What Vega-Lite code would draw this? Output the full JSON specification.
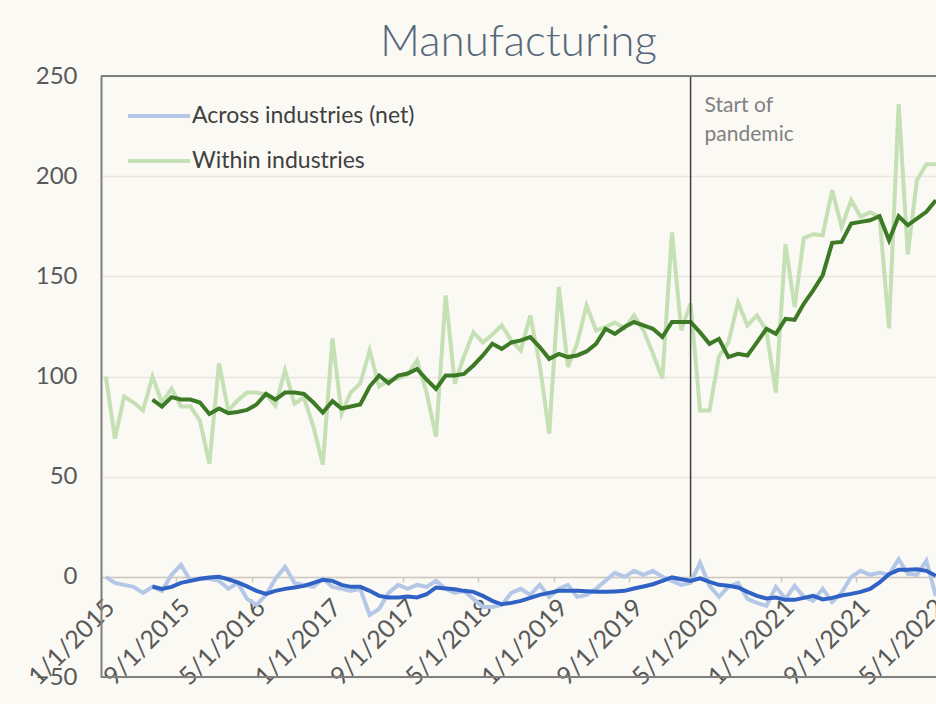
{
  "$schema": "https://vega.github.io/schema/vega-lite/v6.json",
  "width": 835,
  "height": 601,
  "autosize": "none",
  "padding": {"left": 101, "top": 76, "right": 0, "bottom": 27},
  "background": "#fbf9f4",
  "config": {"view": {"stroke": null}},
  "title": {"text": "Manufacturing", "font": "Lato", "fontSize": 44, "fontWeight": 300, "color": "#56687a", "anchor": "middle", "offset": -1},
  "datasets": {
    "monthly": [
      {"date": "2015-01-01", "across": 0, "within": 100},
      {"date": "2015-02-01", "across": -3, "within": 69},
      {"date": "2015-03-01", "across": -4, "within": 90},
      {"date": "2015-04-01", "across": -5, "within": 87},
      {"date": "2015-05-01", "across": -8, "within": 83},
      {"date": "2015-06-01", "across": -5, "within": 100, "acrossMA": -4.8, "withinMA": 88.5},
      {"date": "2015-07-01", "across": -7, "within": 87, "acrossMA": -6, "withinMA": 85},
      {"date": "2015-08-01", "across": 1, "within": 94, "acrossMA": -5, "withinMA": 89.7},
      {"date": "2015-09-01", "across": 6, "within": 85, "acrossMA": -3, "withinMA": 88.5},
      {"date": "2015-10-01", "across": -2, "within": 85, "acrossMA": -2, "withinMA": 88.5},
      {"date": "2015-11-01", "across": -1, "within": 78, "acrossMA": -1, "withinMA": 87},
      {"date": "2015-12-01", "across": -1, "within": 56.5, "acrossMA": -0.3, "withinMA": 81.3},
      {"date": "2016-01-01", "across": -2, "within": 106.5, "acrossMA": 0, "withinMA": 84},
      {"date": "2016-02-01", "across": -6, "within": 83, "acrossMA": -1.2, "withinMA": 81.7},
      {"date": "2016-03-01", "across": -3, "within": 88, "acrossMA": -2.8, "withinMA": 82.3},
      {"date": "2016-04-01", "across": -11, "within": 92, "acrossMA": -4.8, "withinMA": 83.3},
      {"date": "2016-05-01", "across": -14, "within": 92, "acrossMA": -7, "withinMA": 86},
      {"date": "2016-06-01", "across": -9, "within": 91, "acrossMA": -8.5, "withinMA": 91.3},
      {"date": "2016-07-01", "across": -1, "within": 85.5, "acrossMA": -7, "withinMA": 88.5},
      {"date": "2016-08-01", "across": 5, "within": 103, "acrossMA": -6, "withinMA": 92},
      {"date": "2016-09-01", "across": -3, "within": 86.5, "acrossMA": -5.3, "withinMA": 92},
      {"date": "2016-10-01", "across": -4, "within": 89.5, "acrossMA": -4.5, "withinMA": 91.3},
      {"date": "2016-11-01", "across": -5, "within": 75, "acrossMA": -3, "withinMA": 87},
      {"date": "2016-12-01", "across": -1, "within": 56, "acrossMA": -1.5, "withinMA": 82},
      {"date": "2017-01-01", "across": -5, "within": 119, "acrossMA": -2, "withinMA": 87.7},
      {"date": "2017-02-01", "across": -6, "within": 81.5, "acrossMA": -4, "withinMA": 84},
      {"date": "2017-03-01", "across": -7, "within": 92, "acrossMA": -5, "withinMA": 85},
      {"date": "2017-04-01", "across": -6, "within": 96.5, "acrossMA": -5, "withinMA": 86},
      {"date": "2017-05-01", "across": -19, "within": 113, "acrossMA": -7, "withinMA": 95},
      {"date": "2017-06-01", "across": -16, "within": 95, "acrossMA": -9.5, "withinMA": 100.5},
      {"date": "2017-07-01", "across": -8, "within": 98, "acrossMA": -10.3, "withinMA": 96.7},
      {"date": "2017-08-01", "across": -4, "within": 99, "acrossMA": -10.3, "withinMA": 100.5},
      {"date": "2017-09-01", "across": -6, "within": 101, "acrossMA": -9.8, "withinMA": 101.5},
      {"date": "2017-10-01", "across": -4, "within": 108, "acrossMA": -10.3, "withinMA": 103.8},
      {"date": "2017-11-01", "across": -5, "within": 92, "acrossMA": -8.7, "withinMA": 98.5},
      {"date": "2017-12-01", "across": -2, "within": 70, "acrossMA": -5.3, "withinMA": 93.8},
      {"date": "2018-01-01", "across": -6, "within": 140.5, "acrossMA": -5.8, "withinMA": 100.5},
      {"date": "2018-02-01", "across": -8, "within": 96.5, "acrossMA": -6.2, "withinMA": 100.5},
      {"date": "2018-03-01", "across": -7, "within": 110, "acrossMA": -7, "withinMA": 101.3},
      {"date": "2018-04-01", "across": -11, "within": 122, "acrossMA": -7.5, "withinMA": 105.5},
      {"date": "2018-05-01", "across": -15, "within": 117, "acrossMA": -9.5, "withinMA": 110.5},
      {"date": "2018-06-01", "across": -15, "within": 121, "acrossMA": -12, "withinMA": 116.3},
      {"date": "2018-07-01", "across": -14, "within": 125.5, "acrossMA": -13.7, "withinMA": 113.8},
      {"date": "2018-08-01", "across": -8, "within": 118, "acrossMA": -13, "withinMA": 117},
      {"date": "2018-09-01", "across": -6, "within": 113, "acrossMA": -12, "withinMA": 118},
      {"date": "2018-10-01", "across": -9, "within": 130.5, "acrossMA": -10.5, "withinMA": 119.7},
      {"date": "2018-11-01", "across": -4, "within": 106, "acrossMA": -9, "withinMA": 114.7},
      {"date": "2018-12-01", "across": -10, "within": 71.5, "acrossMA": -8, "withinMA": 108.8},
      {"date": "2019-01-01", "across": -6, "within": 144.7, "acrossMA": -7, "withinMA": 111.3},
      {"date": "2019-02-01", "across": -4, "within": 104.7, "acrossMA": -7, "withinMA": 109.7},
      {"date": "2019-03-01", "across": -10, "within": 116.5, "acrossMA": -7, "withinMA": 110.5},
      {"date": "2019-04-01", "across": -9, "within": 135.5, "acrossMA": -7.2, "withinMA": 112.5},
      {"date": "2019-05-01", "across": -6, "within": 123, "acrossMA": -7.5, "withinMA": 116.3},
      {"date": "2019-06-01", "across": -2, "within": 124.7, "acrossMA": -7.5, "withinMA": 123.8},
      {"date": "2019-07-01", "across": 2, "within": 127, "acrossMA": -7.3, "withinMA": 121.3},
      {"date": "2019-08-01", "across": 0, "within": 124, "acrossMA": -7, "withinMA": 124.7},
      {"date": "2019-09-01", "across": 3, "within": 130.5, "acrossMA": -5.8, "withinMA": 127.2},
      {"date": "2019-10-01", "across": 1, "within": 123, "acrossMA": -4.8, "withinMA": 125.5},
      {"date": "2019-11-01", "across": 3, "within": 111.5, "acrossMA": -3.7, "withinMA": 123.8},
      {"date": "2019-12-01", "across": 0, "within": 99, "acrossMA": -2, "withinMA": 119.7},
      {"date": "2020-01-01", "across": -2, "within": 172, "acrossMA": -0.3, "withinMA": 127.2},
      {"date": "2020-02-01", "across": -4, "within": 123, "acrossMA": -1.2, "withinMA": 127.2},
      {"date": "2020-03-01", "across": -3, "within": 136.5, "acrossMA": -2, "withinMA": 127.2},
      {"date": "2020-04-01", "across": 7, "within": 83, "acrossMA": -0.8, "withinMA": 122},
      {"date": "2020-05-01", "across": -4.5, "within": 83, "acrossMA": -2.5, "withinMA": 116.3},
      {"date": "2020-06-01", "across": -10, "within": 110, "acrossMA": -4, "withinMA": 118.8},
      {"date": "2020-07-01", "across": -5, "within": 117, "acrossMA": -4.5, "withinMA": 109.7},
      {"date": "2020-08-01", "across": -3, "within": 137, "acrossMA": -5.3, "withinMA": 111.3},
      {"date": "2020-09-01", "across": -11, "within": 125.5, "acrossMA": -7.5, "withinMA": 110.5},
      {"date": "2020-10-01", "across": -13, "within": 130.5, "acrossMA": -9.5, "withinMA": 117},
      {"date": "2020-11-01", "across": -14.5, "within": 123, "acrossMA": -10.8, "withinMA": 123.8},
      {"date": "2020-12-01", "across": -5, "within": 92, "acrossMA": -10.3, "withinMA": 121.3},
      {"date": "2021-01-01", "across": -11, "within": 166, "acrossMA": -11.5, "withinMA": 128.8},
      {"date": "2021-02-01", "across": -4.5, "within": 134.7, "acrossMA": -11.5, "withinMA": 128.3},
      {"date": "2021-03-01", "across": -10, "within": 169, "acrossMA": -10.5, "withinMA": 136.3},
      {"date": "2021-04-01", "across": -12, "within": 171, "acrossMA": -9.5, "withinMA": 143},
      {"date": "2021-05-01", "across": -6, "within": 170.5, "acrossMA": -11.3, "withinMA": 150.5},
      {"date": "2021-06-01", "across": -12.5, "within": 193, "acrossMA": -10.5, "withinMA": 166.7},
      {"date": "2021-07-01", "across": -8, "within": 174.7, "acrossMA": -9.3, "withinMA": 167.2},
      {"date": "2021-08-01", "across": 0, "within": 188, "acrossMA": -8.5, "withinMA": 176.3},
      {"date": "2021-09-01", "across": 3, "within": 179.7, "acrossMA": -7.5, "withinMA": 177.2},
      {"date": "2021-10-01", "across": 1, "within": 182, "acrossMA": -6, "withinMA": 178},
      {"date": "2021-11-01", "across": 2, "within": 179.7, "acrossMA": -2.8, "withinMA": 180},
      {"date": "2021-12-01", "across": 1, "within": 124, "acrossMA": 1.3, "withinMA": 168},
      {"date": "2022-01-01", "across": 8.8, "within": 236, "acrossMA": 3.5, "withinMA": 180},
      {"date": "2022-02-01", "across": 1.5, "within": 161, "acrossMA": 3.5, "withinMA": 175.5},
      {"date": "2022-03-01", "across": 1, "within": 198, "acrossMA": 3.8, "withinMA": 178.8},
      {"date": "2022-04-01", "across": 8, "within": 206, "acrossMA": 3, "withinMA": 182.2},
      {"date": "2022-05-01", "across": -9.5, "within": 206, "acrossMA": 0.5, "withinMA": 188}
    ],
    "events": [
      {"date": "2020-03-01", "label": "Start of\npandemic"}
    ]
  },
  "data": {"name": "monthly"},
  "layer": [
    {
      "transform": [{"fold": ["across", "within"], "as": ["series", "value"]}],
      "mark": {"type": "line", "strokeWidth": 4, "clip": true},
      "encoding": {
        "x": {
          "field": "date", "type": "temporal", "timeUnit": "utcyearmonth", "bandPosition": 0.5, "title": null,
          "scale": {"domain": [{"year": 2015, "month": 1, "date": 1, "utc": true}, {"year": 2022, "month": 5, "date": 17, "utc": true}]},
          "axis": {
            "values": [
              {"year": 2015, "month": 1, "date": 1, "utc": true},
              {"year": 2015, "month": 9, "date": 1, "utc": true},
              {"year": 2016, "month": 5, "date": 1, "utc": true},
              {"year": 2017, "month": 1, "date": 1, "utc": true},
              {"year": 2017, "month": 9, "date": 1, "utc": true},
              {"year": 2018, "month": 5, "date": 1, "utc": true},
              {"year": 2019, "month": 1, "date": 1, "utc": true},
              {"year": 2019, "month": 9, "date": 1, "utc": true},
              {"year": 2020, "month": 5, "date": 1, "utc": true},
              {"year": 2021, "month": 1, "date": 1, "utc": true},
              {"year": 2021, "month": 9, "date": 1, "utc": true},
              {"year": 2022, "month": 5, "date": 1, "utc": true}
            ],
            "labelExpr": "utcFormat(datum.value, '%-m/%-d/%Y')",
            "offset": -100, "grid": false,
            "labelAngle": -45, "labelAlign": "right", "labelBaseline": "middle",
            "labelFont": "Lato", "labelFontSize": 25, "labelColor": "#595959",
            "labelPadding": 21, "labelOffset": 9, "labelOverlap": false, "labelFlush": false, "labelBound": false,
            "domainColor": "#cdc9c1", "domainWidth": 1.5, "tickColor": "#cdc9c1", "tickSize": 5, "tickWidth": 1.5
          }
        },
        "y": {
          "field": "value", "type": "quantitative", "title": null,
          "scale": {"domain": [-50, 250], "nice": false, "zero": false},
          "axis": {
            "values": [-50, 0, 50, 100, 150, 200, 250],
            "grid": true, "gridColor": "#ebe7df", "gridWidth": 1.5,
            "ticks": false, "domain": true, "domainColor": "#7f7f7f", "domainWidth": 2,
            "labelFont": "Lato", "labelFontSize": 24, "labelColor": "#595959", "labelPadding": 24
          }
        },
        "color": {
          "field": "series", "type": "nominal",
          "scale": {"domain": ["across", "within"], "range": ["#b4c7e7", "#c5e0b4"]},
          "legend": {
            "orient": "none", "legendX": 25, "legendY": 7, "title": null, "padding": 0,
            "symbolType": "stroke", "symbolSize": 3844, "symbolStrokeWidth": 4,
            "labelFont": "Lato", "labelFontSize": 23, "labelColor": "#404040", "labelOffset": 0, "labelLimit": 500,
            "rowPadding": -1,
            "labelExpr": "datum.label == 'across' ? 'Across industries (net)' : 'Within industries'"
          }
        }
      }
    },
    {
      "mark": {"type": "line", "color": "#3d7a26", "strokeWidth": 4, "clip": true},
      "encoding": {
        "x": {"field": "date", "type": "temporal", "timeUnit": "utcyearmonth", "bandPosition": 0.5, "title": null},
        "y": {"field": "withinMA", "type": "quantitative", "title": null}
      }
    },
    {
      "mark": {"type": "line", "color": "#2f62c4", "strokeWidth": 4, "clip": true},
      "encoding": {
        "x": {"field": "date", "type": "temporal", "timeUnit": "utcyearmonth", "bandPosition": 0.5, "title": null},
        "y": {"field": "acrossMA", "type": "quantitative", "title": null}
      }
    },
    {
      "data": {"name": "events"},
      "mark": {"type": "rule", "color": "#404040", "strokeWidth": 1.5},
      "encoding": {
        "x": {"field": "date", "type": "temporal", "timeUnit": "utcyearmonth", "bandPosition": 0.5, "title": null},
        "y": {"datum": 250},
        "y2": {"datum": 0}
      }
    },
    {
      "data": {"name": "events"},
      "mark": {"type": "text", "align": "left", "baseline": "top", "dx": 14, "dy": 19, "font": "Lato", "fontSize": 21, "color": "#808080", "lineBreak": "\n", "lineHeight": 29},
      "encoding": {
        "x": {"field": "date", "type": "temporal", "timeUnit": "utcyearmonth", "bandPosition": 0.5, "title": null},
        "y": {"datum": 250},
        "text": {"field": "label"}
      }
    },
    {
      "data": {"values": [{}]},
      "mark": {"type": "rule", "color": "#7f7f7f", "strokeWidth": 2},
      "encoding": {"y": {"datum": 250}}
    },
    {
      "data": {"values": [{}]},
      "mark": {"type": "rule", "color": "#7f7f7f", "strokeWidth": 2},
      "encoding": {"y": {"datum": -50}}
    }
  ]
}
